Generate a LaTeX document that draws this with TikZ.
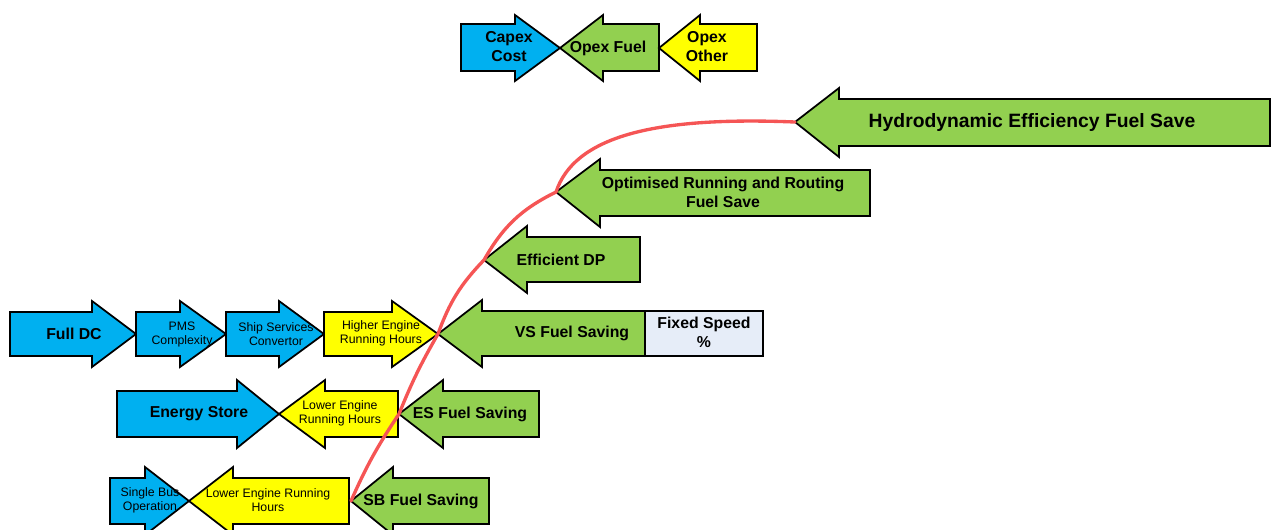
\documentclass[tikz,border=0pt]{standalone}
\usepackage{fontspec}
\setmainfont{Liberation Sans}
\definecolor{capexblue}{RGB}{0,176,240}
\definecolor{fuelgreen}{RGB}{146,208,80}
\definecolor{otheryellow}{RGB}{255,255,0}
\definecolor{fixedgrey}{RGB}{230,237,248}
\definecolor{curvered}{RGB}{245,85,85}

\tikzset{
  blk/.style={draw=black, line width=1pt, line join=miter},
  big/.style={font=\fontsize{9}{10.8}\selectfont\bfseries, align=center},
  huge/.style={font=\fontsize{11}{13}\selectfont\bfseries, align=center},
  sml/.style={font=\fontsize{7}{8}\selectfont, align=center},
  saving/.style={curvered, line width=1.9pt, line cap=round, line join=round},
}

\begin{document}
\begin{tikzpicture}[x=0.02cm,y=-0.02cm]
\useasboundingbox (0,0) rectangle (1272,529);

% top row
\draw [blk,fill=capexblue](461,24) -- (515,24) -- (515,15) -- (560,48) -- (515,81) -- (515,71) -- (461,71) -- cycle;
\draw [blk,fill=fuelgreen](560,48) -- (603,15) -- (603,24) -- (659,24) -- (659,71) -- (603,71) -- (603,81) -- cycle;
\draw [blk,fill=otheryellow](659,48) -- (700,15) -- (700,24) -- (757,24) -- (757,71) -- (700,71) -- (700,81) -- cycle;
\node [big] (capex) at (509,47) {Capex\\Cost};
\node [big] (opexfuel) at (608,48) {Opex Fuel};
\node [big] (opexother) at (707,47) {Opex\\Other};

% fuel saving arrows
\draw [blk,fill=fuelgreen](795,122) -- (839,88) -- (839,99) -- (1270,99) -- (1270,146) -- (839,146) -- (839,157) -- cycle;
\node [huge] (hydro) at (1032,122) {Hydrodynamic Efficiency Fuel Save};
\draw [blk,fill=fuelgreen](556,192) -- (600,159) -- (600,170) -- (870,170) -- (870,216) -- (600,216) -- (600,227) -- cycle;
\node [big] (routing) at (723,192) {Optimised Running and Routing\\Fuel Save};
\draw [blk,fill=fuelgreen](484,260) -- (527,226) -- (527,237) -- (640,237) -- (640,282) -- (527,282) -- (527,293) -- cycle;
\node [big] (dp) at (561,260) {Efficient DP};

% variable speed row
\draw [blk,fill=capexblue](10,312) -- (92,312) -- (92,301) -- (136,334) -- (92,367) -- (92,356) -- (10,356) -- cycle;
\draw [blk,fill=capexblue](136,312) -- (180,312) -- (180,301) -- (226,334) -- (180,367) -- (180,356) -- (136,356) -- cycle;
\draw [blk,fill=capexblue](226,312) -- (279,312) -- (279,301) -- (324,334) -- (279,367) -- (279,356) -- (226,356) -- cycle;
\draw [blk,fill=otheryellow](324,312) -- (392,312) -- (392,301) -- (438,334) -- (392,367) -- (392,356) -- (324,356) -- cycle;
\draw [blk,fill=fuelgreen](438,334) -- (482,300) -- (482,311) -- (645,311) -- (645,356) -- (482,356) -- (482,367) -- cycle;
\draw [blk,fill=fixedgrey](645,311) rectangle (763,356);
\node [big] (fulldc) at (74,334) {Full DC};
\node [sml] (pms) at (182,334) {PMS\\Complexity};
\node [sml] (shipserv) at (276,334) {Ship Services\\Convertor};
\node [sml] (higher) at (381,333) {Higher Engine\\Running Hours};
\node [big] (vsfuel) at (572,333) {VS Fuel Saving};
\node [big] (fixed) at (704,332) {Fixed Speed\\\%};

% energy store row
\draw [blk,fill=capexblue](117,391) -- (237,391) -- (237,380) -- (279,414) -- (237,448) -- (237,437) -- (117,437) -- cycle;
\draw [blk,fill=otheryellow](279,414) -- (325,380) -- (325,391) -- (398,391) -- (398,437) -- (325,437) -- (325,448) -- cycle;
\draw [blk,fill=fuelgreen](399,414) -- (443,380) -- (443,391) -- (539,391) -- (539,437) -- (443,437) -- (443,448) -- cycle;
\node [big] (estore) at (199,414) {Energy Store};
\node [sml] (lower1) at (340,413) {Lower Engine\\Running Hours};
\node [big] (esfuel) at (470,414) {ES Fuel Saving};

% single bus row
\draw [blk,fill=capexblue](110,478) -- (145,478) -- (145,467) -- (189,501) -- (145,535) -- (145,524) -- (110,524) -- cycle;
\draw [blk,fill=otheryellow](189,501) -- (233,467) -- (233,478) -- (349,478) -- (349,524) -- (233,524) -- (233,535) -- cycle;
\draw [blk,fill=fuelgreen](351,501) -- (393,467) -- (393,478) -- (489,478) -- (489,524) -- (393,524) -- (393,535) -- cycle;
\node [sml] (singlebus) at (150,500) {Single Bus\\Operation};
\node [sml] (lower2) at (268,500) {Lower Engine Running\\Hours};
\node [big] (sbfuel) at (421,501) {SB Fuel Saving};

% saving curve through the arrow tips
\coordinate (tipSB) at (351,501);
\coordinate (tipES) at (399,414);
\coordinate (tipVS) at (438,334);
\coordinate (tipDP) at (484,260);
\coordinate (tipOR) at (556,192);
\coordinate (tipHE) at (795,122);
\draw [saving] (tipSB) to[bend left=5] (tipES) to[bend left=4] (tipVS)
  to[bend left=12] (tipDP) to[bend left=17] (tipOR)
  .. controls (574,138) and (650,116) .. (tipHE);
\end{tikzpicture}
\end{document}
